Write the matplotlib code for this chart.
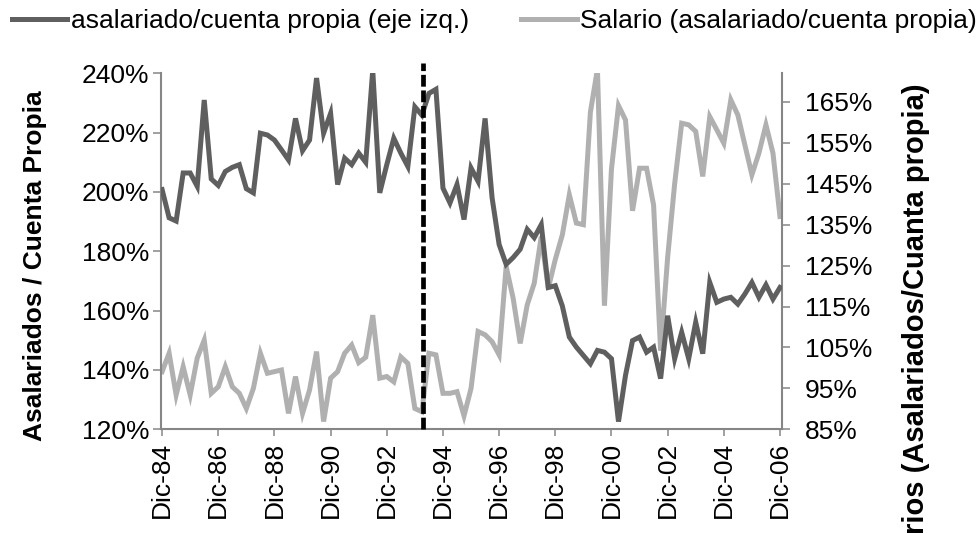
import matplotlib
matplotlib.use("Agg")
import matplotlib.pyplot as plt
from matplotlib.ticker import FuncFormatter

# ====== 1) DATA (trimestral, Dic-84 a Dic-06) ======
asal_cp = [200.8, 191.3, 190.2, 206.4, 206.4, 201.9, 231.0, 204.4, 202.2, 206.9,
           208.3, 209.2, 201.1, 199.7, 219.8, 219.2, 217.5, 214.2, 210.8, 224.8,
           213.9, 217.5, 238.4, 219.8, 226.5, 202.5, 211.4, 209.2, 213.1, 210.0,
           241.0, 199.7, 209.2, 218.1, 213.1, 208.6, 228.7, 225.9, 233.2, 234.6,
           201.3, 196.3, 202.5, 190.7, 208.1, 203.6, 224.8, 198.0, 182.3, 175.6,
           177.9, 180.7, 187.4, 184.6, 189.0, 167.8, 168.4, 161.6, 151.1, 147.7,
           144.9, 142.1, 146.6, 146.0, 143.8, 122.6, 138.2, 149.9, 151.1, 146.0,
           147.7, 137.1, 158.3, 143.8, 152.7, 143.8, 156.1, 145.5, 169.5, 162.8,
           163.9, 164.5, 162.2, 165.6, 169.5, 164.5, 168.7, 163.9, 167.8]

salario = [99.1, 103.6, 93.4, 100.3, 93.4, 102.4, 106.8, 93.8, 95.4, 100.3,
           95.4, 93.8, 90.1, 95.0, 103.6, 98.7, 99.1, 99.5, 88.9, 97.9,
           88.9, 94.6, 104.0, 86.9, 97.5, 99.1, 103.6, 105.6, 101.3, 102.6,
           112.9, 97.5, 97.9, 96.6, 102.7, 101.1, 90.1, 89.3, 103.6, 103.2,
           93.8, 93.8, 94.2, 88.3, 95.0, 108.9, 108.1, 106.4, 103.2, 124.8,
           117.0, 106.0, 115.4, 120.7, 132.1, 119.5, 126.5, 132.5, 142.3, 135.4,
           135.0, 162.5, 173.0, 115.2, 148.6, 164.1, 160.6, 138.4, 148.8, 148.8,
           139.8, 104.2, 127.0, 145.0, 159.8, 159.4, 157.8, 146.8, 161.4, 158.2,
           154.9, 165.5, 161.8, 154.5, 147.2, 152.5, 159.4, 152.5, 137.0]

tick_labels = ["Dic-84", "Dic-86", "Dic-88", "Dic-90", "Dic-92", "Dic-94",
               "Dic-96", "Dic-98", "Dic-00", "Dic-02", "Dic-04", "Dic-06"]
corte = 37.1  # linea vertical punteada (posicion trimestral)

x = list(range(len(asal_cp)))

# ====== 2) STYLE ======
plt.rcParams["font.family"] = ["Liberation Sans", "DejaVu Sans"]
plt.rcParams["font.size"] = 19
DARK = "#5f5f5f"
LIGHT = "#b0b0b0"
AXC = "#868686"

fig = plt.figure(figsize=(9.79, 5.33), dpi=100)
ax = fig.add_axes([0.1645, 0.1945, 0.634, 0.668])
ax2 = ax.twinx()

# ====== 3) PLOT ======
l1, = ax.plot(x, asal_cp, color=DARK, lw=3.6, solid_joinstyle="miter", zorder=3)
l2, = ax2.plot(x, salario, color=LIGHT, lw=3.6, solid_joinstyle="miter", zorder=2)
ax.set_zorder(ax2.get_zorder() + 1)
ax.patch.set_visible(False)

ax.axvline(corte, ymin=0, ymax=1.03, color="black", lw=3.4, ls=(0, (2.5, 0.8)),
           clip_on=False, zorder=5)

ax.set_xlim(-0.15, 88.25)
ax.set_ylim(120, 240)
ax2.set_ylim(85, 172)
ax.set_yticks(range(120, 241, 20))
ax2.set_yticks(range(85, 166, 10))
pct = FuncFormatter(lambda v, p: f"{v:.0f}%")
ax.yaxis.set_major_formatter(pct)
ax2.yaxis.set_major_formatter(pct)
ax.set_xticks(range(0, 89, 8))
ax.set_xticklabels(tick_labels, rotation=90)

for a in (ax, ax2):
    for s in a.spines.values():
        s.set_color(AXC)
        s.set_linewidth(1.5)
    a.spines["top"].set_visible(False)
ax.spines["right"].set_visible(False)
ax2.spines["left"].set_visible(False)
ax2.spines["bottom"].set_visible(False)

ax.tick_params(axis="y", length=5.5, width=1.1, color=AXC, pad=3)
ax.tick_params(axis="x", length=5, width=1.1, color=AXC, pad=4)
ax2.tick_params(axis="y", length=5.5, width=1.1, color=AXC, pad=11)

# ====== 4) LABELS + LEGEND ======
fig.text(0.036, 1 - 266 / 533, "Asalariados / Cuenta Propia", rotation=90,
         ha="center", va="center", fontweight="bold")
# la etiqueta derecha queda cortada abajo, como en el original
fig.text(0.936, 1 - 83 / 533, "Salarios (Asalariados/Cuanta propia)", rotation=90,
         ha="center", va="top", fontweight="bold", fontsize=21)

fig.legend([l1, l2], ["asalariado/cuenta propia (eje izq.)",
                      "Salario (asalariado/cuenta propia)"],
           loc="center left", bbox_to_anchor=(12 / 979, 1 - 21 / 533), ncol=2,
           frameon=False, borderpad=0, borderaxespad=0, handlelength=2.1,
           handletextpad=0.12, columnspacing=2.0)

fig.savefig("out.png", dpi=100)
